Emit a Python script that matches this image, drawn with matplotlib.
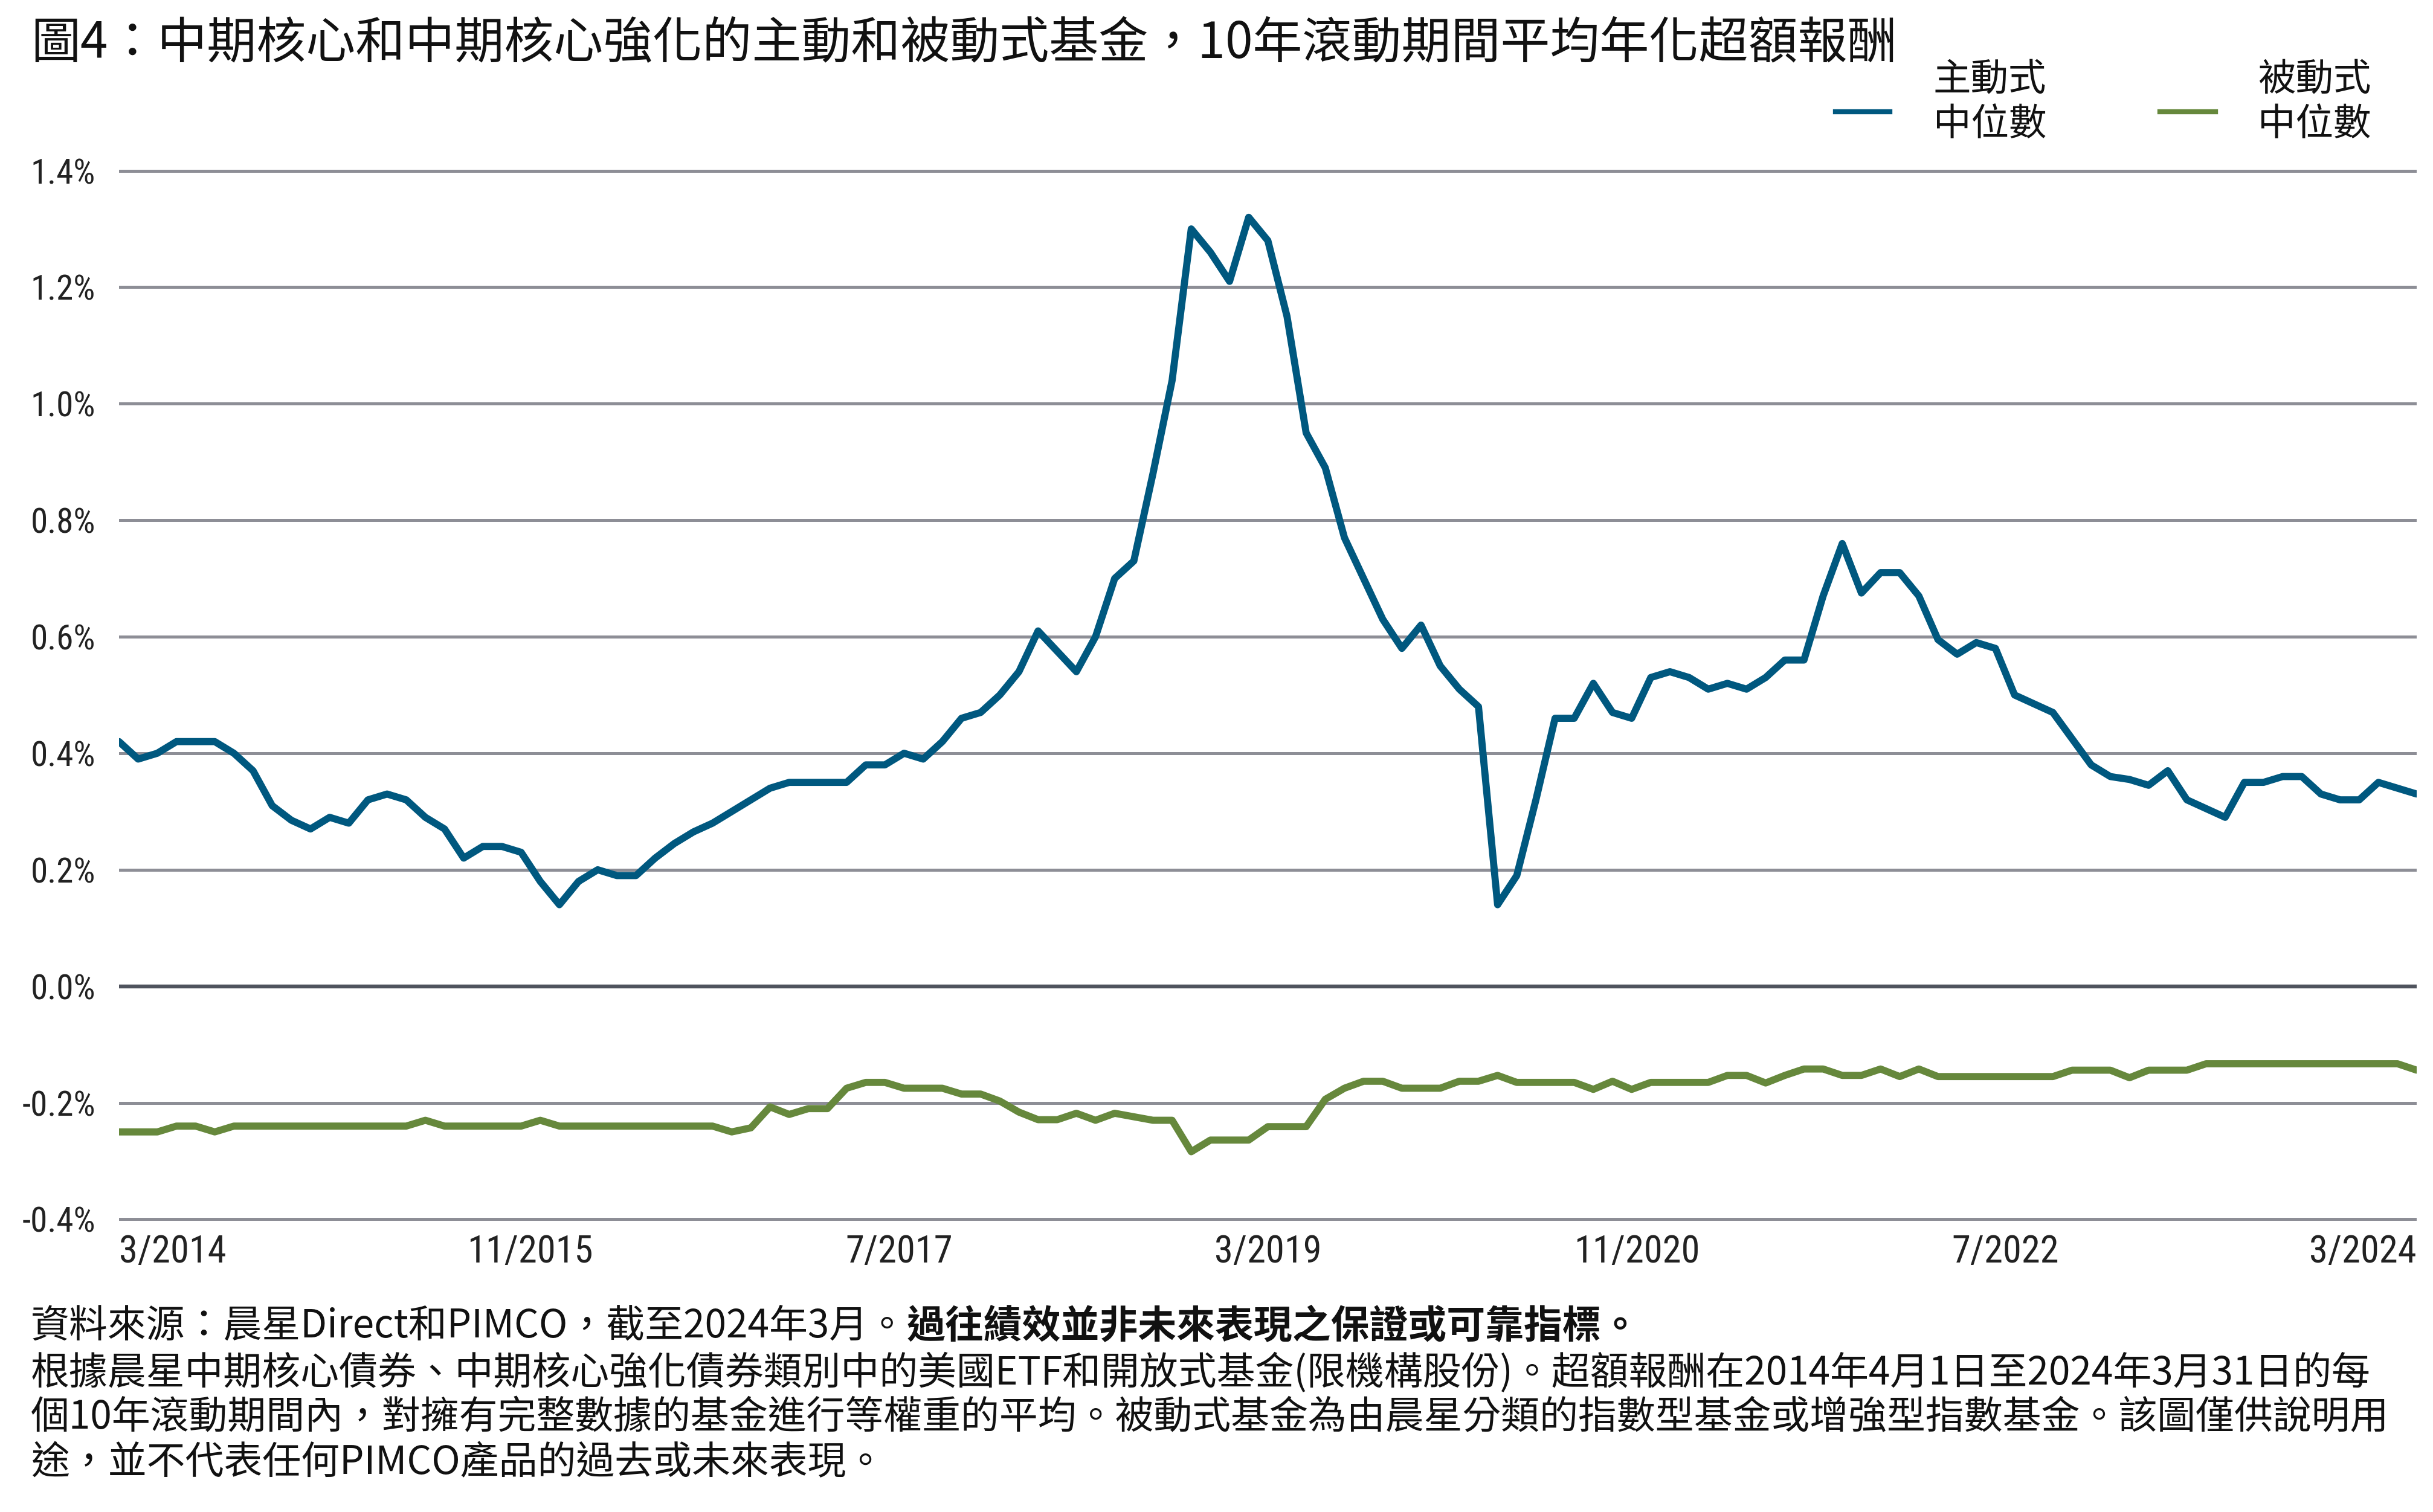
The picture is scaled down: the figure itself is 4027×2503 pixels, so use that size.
import matplotlib
matplotlib.use('Agg')
import matplotlib.pyplot as plt
from matplotlib.lines import Line2D
import numpy as np

# monthly 10-year rolling average annualized excess return (%), 3/2014 - 3/2024
active = [
    0.42, 0.39, 0.40, 0.42, 0.42, 0.42, 0.40, 0.37, 0.31, 0.285,
    0.27, 0.29, 0.28, 0.32, 0.33, 0.32, 0.29, 0.27, 0.22, 0.24,
    0.24, 0.23, 0.18, 0.14, 0.18, 0.20, 0.19, 0.19, 0.22, 0.245,
    0.265, 0.28, 0.30, 0.32, 0.34, 0.35, 0.35, 0.35, 0.35, 0.38,
    0.38, 0.40, 0.39, 0.42, 0.46, 0.47, 0.50, 0.54, 0.61, 0.575,
    0.54, 0.60, 0.70, 0.73, 0.88, 1.04, 1.30, 1.26, 1.21, 1.32,
    1.28, 1.15, 0.95, 0.89, 0.77, 0.70, 0.63, 0.58, 0.62, 0.55,
    0.51, 0.48, 0.14, 0.19, 0.32, 0.46, 0.46, 0.52, 0.47, 0.46,
    0.53, 0.54, 0.53, 0.51, 0.52, 0.51, 0.53, 0.56, 0.56, 0.67,
    0.76, 0.675, 0.71, 0.71, 0.67, 0.595, 0.57, 0.59, 0.58, 0.50,
    0.485, 0.47, 0.425, 0.38, 0.36, 0.355, 0.345, 0.37, 0.32, 0.305,
    0.29, 0.35, 0.35, 0.36, 0.36, 0.33, 0.32, 0.32, 0.35, 0.34,
    0.33,
]
passive = [
    -0.25, -0.25, -0.25, -0.24, -0.24, -0.25, -0.24, -0.24, -0.24, -0.24,
    -0.24, -0.24, -0.24, -0.24, -0.24, -0.24, -0.23, -0.24, -0.24, -0.24,
    -0.24, -0.24, -0.23, -0.24, -0.24, -0.24, -0.24, -0.24, -0.24, -0.24,
    -0.24, -0.24, -0.25, -0.243, -0.207, -0.22, -0.21, -0.21, -0.175, -0.165,
    -0.165, -0.175, -0.175, -0.175, -0.185, -0.185, -0.197, -0.216, -0.229, -0.229,
    -0.218, -0.23, -0.218, -0.224, -0.23, -0.23, -0.284, -0.264, -0.264, -0.264,
    -0.241, -0.241, -0.241, -0.194, -0.175, -0.163, -0.163, -0.175, -0.175, -0.175,
    -0.163, -0.163, -0.153, -0.165, -0.165, -0.165, -0.165, -0.177, -0.163, -0.177,
    -0.165, -0.165, -0.165, -0.165, -0.153, -0.153, -0.166, -0.153, -0.142, -0.142,
    -0.153, -0.153, -0.142, -0.155, -0.142, -0.155, -0.155, -0.155, -0.155, -0.155,
    -0.155, -0.155, -0.144, -0.144, -0.144, -0.157, -0.144, -0.144, -0.144, -0.133,
    -0.133, -0.133, -0.133, -0.133, -0.133, -0.133, -0.133, -0.133, -0.133, -0.133,
    -0.144,
]
x_labels = ['3/2014', '11/2015', '7/2017', '3/2019', '11/2020', '7/2022', '3/2024']
y_ticks = [-0.4, -0.2, 0.0, 0.2, 0.4, 0.6, 0.8, 1.0, 1.2, 1.4]

series_names = ['主動式\n中位數', '被動式\n中位數']
title = '圖4：中期核心和中期核心強化的主動和被動式基金，10年滾動期間平均年化超額報酬'
note1 = '資料來源：晨星Direct和PIMCO，截至2024年3月。'
note1_bold = '過往績效並非未來表現之保證或可靠指標。'
notes = [
    '根據晨星中期核心債券、中期核心強化債券類別中的美國ETF和開放式基金(限機構股份)。超額報酬在2014年4月1日至2024年3月31日的每',
    '個10年滾動期間內，對擁有完整數據的基金進行等權重的平均。被動式基金為由晨星分類的指數型基金或增強型指數基金。該圖僅供說明用',
    '途，並不代表任何PIMCO產品的過去或未來表現。',
]

BLUE = '#00587f'
GREEN = '#66883c'
cjk = ['Noto Sans CJK TC', 'DejaVu Sans']
num_font = ['Liberation Sans Narrow', 'DejaVu Sans Condensed', 'Roboto Condensed', 'Roboto']
plt.rcParams['font.family'] = cjk

fig = plt.figure(figsize=(40.27, 25.03), dpi=100)
ax = fig.add_axes([0.04892, 0.18973, 0.94437, 0.70124])

x = np.arange(len(active))
ax.plot(x, active, color=BLUE, lw=8.5, solid_joinstyle='round',
        solid_capstyle='round', zorder=3)
ax.plot(x, passive, color=GREEN, lw=8.5, solid_joinstyle='round',
        solid_capstyle='round', zorder=3)

n = len(active) - 1
ax.set_xlim(0, n)
ax.set_ylim(-0.41, 1.41)
ax.set_yticks(y_ticks)
ax.set_yticklabels([f'{v:.1f}%' for v in y_ticks], fontfamily=num_font,
                   fontstretch='condensed', fontsize=41, color='#222222')
# labels spread evenly like the original (first/last flush with the plot edges)
pos = list(np.linspace(2.2, n - 2.2, len(x_labels)))
pos[0], pos[-1] = 0, n
ax.set_xticks(pos)
xl = ax.set_xticklabels(x_labels, fontfamily=num_font, fontstretch='condensed',
                        fontsize=45, color='#222222')
xl[0].set_ha('left')
xl[-1].set_ha('right')
ax.tick_params(axis='y', length=0, pad=28)
ax.tick_params(axis='x', length=0, pad=11)
for s in ax.spines.values():
    s.set_visible(False)
ax.grid(axis='y', color='#8d8e96', lw=3.6, zorder=1)
ax.grid(axis='x', visible=False)
ax.axhline(0, color='#4f535d', lw=4.6, zorder=2)

# title
fig.text(0.0127, 0.9712, title, fontsize=59, fontweight='medium',
         ha='left', va='center', color='#111111')

# legend
for name, col, hx0, hx1, tx in [(series_names[0], BLUE, 0.7544, 0.7768, 0.7946),
                                 (series_names[1], GREEN, 0.8877, 0.9106, 0.9280)]:
    fig.add_artist(Line2D([hx0, hx1], [0.9261, 0.9261], color=col, lw=6,
                          transform=fig.transFigure))
    fig.text(tx, 0.9325, name, fontsize=45, ha='left', va='center',
             linespacing=1.2, color='#111111')

# footnotes
t1 = fig.text(0.0127, 0.12265, note1, fontsize=46, ha='left', va='center',
              color='#111111')
ax.annotate(note1_bold, xy=(1, 0), xycoords=t1, ha='left', va='bottom',
            fontsize=46, fontweight='bold', color='#111111')
for txt, yy in zip(notes, [0.09189, 0.06233, 0.03236]):
    fig.text(0.0127, yy, txt, fontsize=46, ha='left', va='center', color='#111111')

fig.savefig('out.png', dpi=100)
